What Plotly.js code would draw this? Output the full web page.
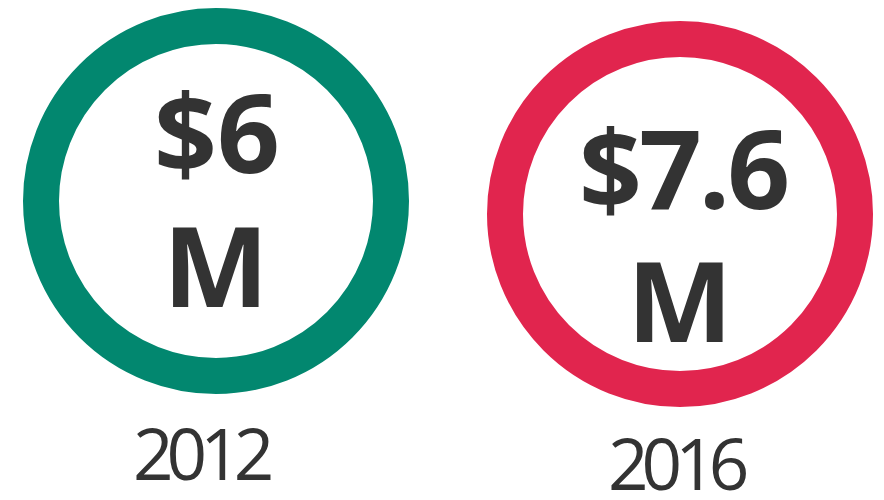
<!DOCTYPE html>
<html>
<head>
<meta charset="utf-8">
<script src="https://cdn.plot.ly/plotly-3.0.1.min.js"></script>
<style>
html,body{margin:0;padding:0;background:#fff;}
#chart{width:884px;height:500px;}
g.annotation[data-index="1"] text { letter-spacing: -3px; }
g.annotation[data-index="4"] text, g.annotation[data-index="5"] text { letter-spacing: -7px; }
</style>
</head>
<body>
<div id="chart"></div>
<script>
// Data
var years = ['2012', '2016'];
var values = [6, 7.6];
var unit = 'M';

// Styles / layout positions
var ringColors = ['#02876F', '#E1254E'];
var cx = [216, 680];
var cy = [201, 214];
var valueX = [217, 683];
var valueTop = [130, 166];   // centre of first text line (px)
var unitMid = [263, 298];    // centre of second text line (px)
var yearMid = [452, 462];
var yearX = [200, 675];

var trace = {
  type: 'scatter',
  mode: 'markers',
  x: cx,
  y: cy,
  text: years,
  hoverinfo: 'text',
  marker: {
    symbol: 'circle-open',
    size: 350,
    color: ringColors,
    line: {width: 36, color: ringColors}
  },
  showlegend: false
};

var annotations = [];
var i;
for (i = 0; i < years.length; i++) {
  annotations.push({
    x: valueX[i], y: valueTop[i], xref: 'x', yref: 'y',
    text: '<b>$' + values[i] + '</b>', showarrow: false,
    xanchor: 'center', yanchor: 'middle',
    font: {family: 'Open Sans, sans-serif', size: 110, color: '#333333'}
  });
}
for (i = 0; i < years.length; i++) {
  annotations.push({
    x: cx[i], y: unitMid[i], xref: 'x', yref: 'y',
    text: '<b>' + unit + '</b>', showarrow: false,
    xanchor: 'center', yanchor: 'middle',
    font: {family: 'Open Sans, sans-serif', size: 112, color: '#333333'}
  });
}
for (i = 0; i < years.length; i++) {
  annotations.push({
    x: yearX[i], y: yearMid[i], xref: 'x', yref: 'y',
    text: years[i], showarrow: false,
    xanchor: 'center', yanchor: 'middle',
    font: {family: 'Open Sans, sans-serif', size: 71, color: '#333333'}
  });
}

var layout = {
  width: 884, height: 500,
  margin: {l: 0, r: 0, t: 0, b: 0},
  paper_bgcolor: '#ffffff', plot_bgcolor: '#ffffff',
  xaxis: {range: [0, 884], visible: false, fixedrange: true},
  yaxis: {range: [500, 0], visible: false, fixedrange: true},
  annotations: annotations
};

Plotly.newPlot('chart', [trace], layout, {displayModeBar: false, staticPlot: true});
</script>
</body>
</html>
